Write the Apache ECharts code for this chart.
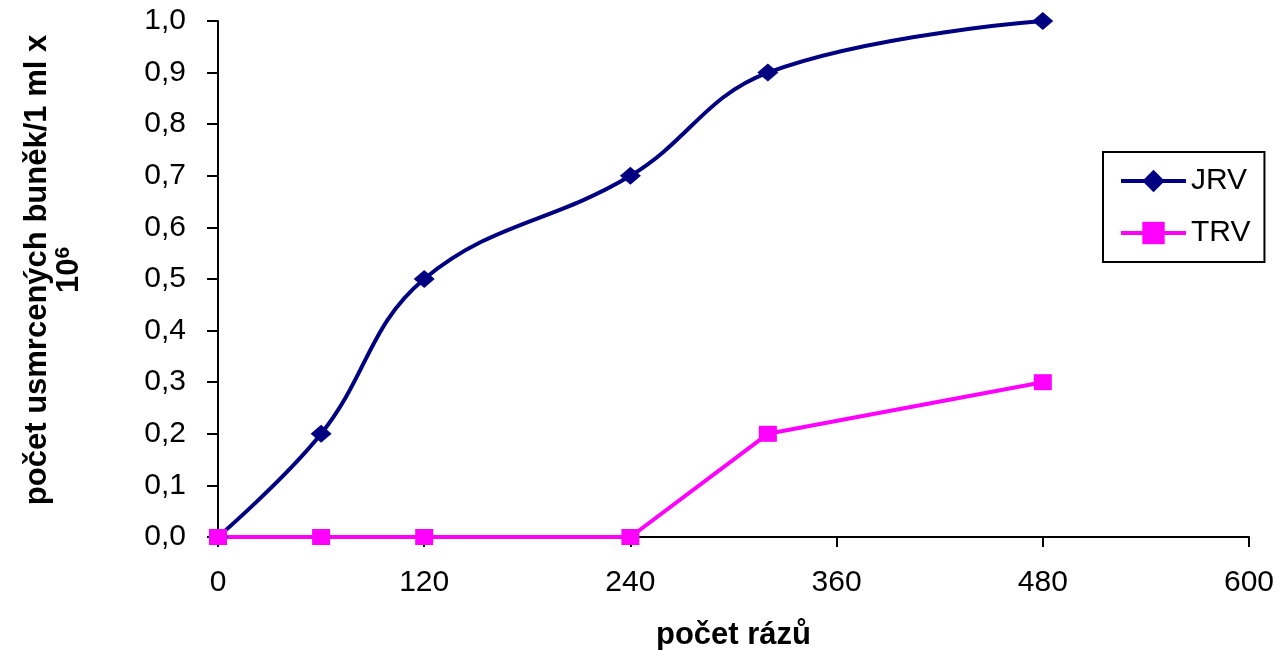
<!DOCTYPE html>
<html><head><meta charset="utf-8">
<script src="https://cdn.jsdelivr.net/npm/echarts@6/dist/echarts.min.js"></script>
<style>html,body{margin:0;padding:0;background:#fff}#c{width:1284px;height:650px}</style>
</head><body><div id="c"></div>
<script>
var xValues = [0, 60, 120, 240, 320, 480];
var jrvValues = [0, 0.2, 0.5, 0.7, 0.9, 1.0];
var trvValues = [0, 0, 0, 0, 0.2, 0.3];
var seriesNames = ['JRV', 'TRV'];
var xTitle = 'počet rázů';
var yTitleLine1 = 'počet usmrcených buněk/1 ml x';

function pairs(xs, ys){ return xs.map(function(x,i){ return [x, ys[i]]; }); }
var font = '"Liberation Sans", Arial, sans-serif';
var chart = echarts.init(document.getElementById('c'), null, {renderer:'canvas'});
chart.setOption({
  animation:false,
  backgroundColor:'#fff',
  textStyle:{fontFamily:font},
  grid:{left:218, right:35, top:21, bottom:113, containLabel:false, outerBoundsMode:'none'},
  xAxis:{type:'value', min:0, max:600, interval:120,
    name:xTitle, nameLocation:'middle', nameGap:83,
    nameTextStyle:{fontSize:31, fontWeight:'bold', color:'#000', fontFamily:font},
    axisLine:{show:true, lineStyle:{color:'#000', width:2}},
    axisTick:{show:true, length:10, lineStyle:{color:'#000', width:2}},
    axisLabel:{fontSize:30, color:'#000', margin:31, fontFamily:font},
    splitLine:{show:false}},
  yAxis:{type:'value', min:0, max:1, interval:0.1,
    name:yTitleLine1 + '\n{n|10}{s|6}', nameLocation:'middle', nameGap:133, nameRotate:90,
    nameTextStyle:{fontSize:31, fontWeight:'bold', color:'#000', fontFamily:font, lineHeight:32, align:'center',
      padding:[0,0,0,18],
      rich:{n:{fontSize:31, fontWeight:'bold', color:'#000', fontFamily:font, lineHeight:32},
            s:{fontSize:21, fontWeight:'bold', color:'#000', fontFamily:font, verticalAlign:'top', padding:[0,0,12,0], lineHeight:32}}},
    axisLine:{show:true, lineStyle:{color:'#000', width:2}},
    axisTick:{show:true, length:11, lineStyle:{color:'#000', width:2}},
    axisLabel:{fontSize:30, color:'#000', margin:32, fontFamily:font,
      formatter:function(v){ return v.toFixed(1).replace('.', ','); }},
    splitLine:{show:false}},
  legend:{orient:'vertical', left:1103, top:152, data:seriesNames,
    borderColor:'#000', borderWidth:2, padding:[14,14,14,16], itemGap:22,
    itemWidth:65, itemHeight:28, lineStyle:{width:4},
    textStyle:{fontSize:30, color:'#000', fontFamily:font}},
  series:[
    {name:seriesNames[0], type:'line', data:pairs(xValues, jrvValues), smooth:0.4,
     symbol:'diamond', symbolSize:[21,18], color:'#000080',
     lineStyle:{color:'#000080', width:4}, itemStyle:{color:'#000080'}},
    {name:seriesNames[1], type:'line', data:pairs(xValues, trvValues),
     symbol:'rect', symbolSize:[18,16], color:'#FF00FF',
     lineStyle:{color:'#FF00FF', width:4}, itemStyle:{color:'#FF00FF'}}
  ]
});
</script></body></html>
